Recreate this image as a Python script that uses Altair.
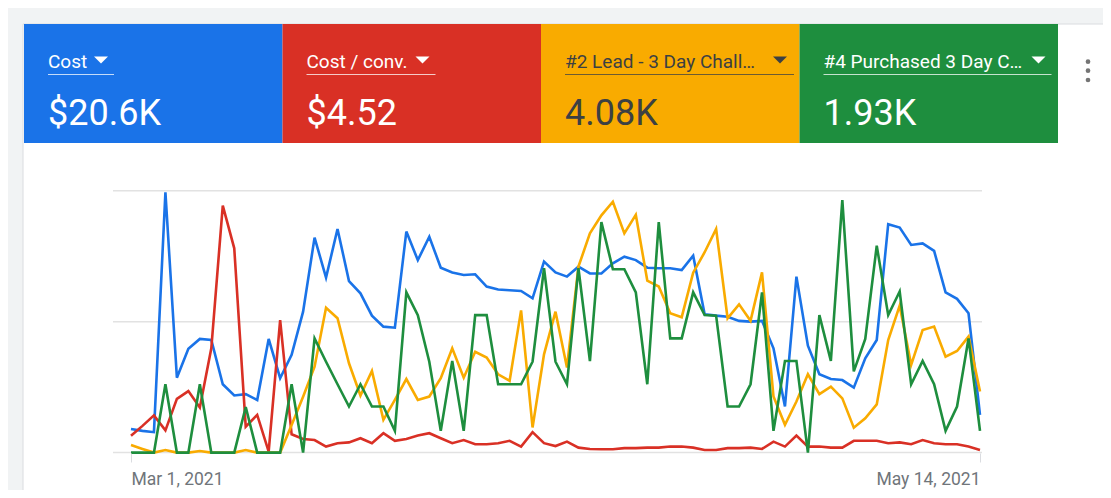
import altair as alt
import pandas as pd

# ---------------- data ----------------
dates = pd.date_range("2021-03-01", "2021-05-14", freq="D").strftime("%Y-%m-%d").tolist()

metric_names = ["Cost", "Cost / conv.", "#2 Lead - 3 Day Chall\u2026", "#4 Purchased 3 Day C\u2026"]
metric_values = ["$20.6K", "$4.52", "4.08K", "1.93K"]
metric_colors = ["#1a73e8", "#d93025", "#f9ab00", "#1e8e3e"]
text_colors = ["#ffffff", "#ffffff", "#3c4043", "#ffffff"]

# each series shown on its own relative scale (0-100 % of its axis)
cost = [9.0, 8.3, 7.8, 99.4, 28.6, 39.6, 43.4, 43.0, 26.1, 21.8, 22.3, 20.1, 43.4, 28.4, 37.3,
        53.8, 82.1, 66.8, 85.4, 65.5, 60.8, 52.3, 48.1, 47.7, 84.4, 73.5, 82.4, 70.6, 68.8, 67.8,
        68.1, 63.4, 62.3, 62.0, 61.7, 58.9, 72.9, 68.8, 67.2, 71.0, 68.4, 68.4, 72.3, 74.8, 73.5,
        70.6, 70.4, 70.4, 69.7, 75.2, 52.8, 52.3, 51.9, 50.3, 50.0, 50.3, 39.8, 17.6, 67.2, 40.8,
        29.9, 28.1, 27.7, 24.8, 36.0, 43.0, 87.2, 85.9, 79.3, 79.9, 77.0, 61.2, 58.7, 53.2, 14.4]
cost_per_conv = [6.4, 10.2, 14.2, 8.5, 20.5, 23.5, 17.2, 39.8, 94.3, 78.0, 9.9, 14.4, 0.4, 50.6, 7.0,
                 5.2, 4.8, 2.3, 3.6, 3.9, 5.5, 3.6, 7.4, 4.5, 5.2, 6.5, 7.4, 5.5, 3.6, 4.8,
                 3.2, 3.2, 3.6, 4.5, 2.3, 7.8, 3.6, 2.5, 4.2, 1.9, 1.4, 1.3, 1.3, 1.7, 1.7,
                 1.9, 1.9, 2.3, 2.3, 1.9, 1.0, 1.0, 1.7, 1.7, 1.9, 1.4, 4.2, 2.3, 6.5, 2.3,
                 2.3, 1.9, 1.9, 4.5, 4.5, 4.5, 3.6, 3.9, 3.2, 4.8, 3.6, 3.2, 3.2, 2.3, 1.0]
lead = [2.9, 1.4, 0.0, 1.0, 0.0, 0.0, 0.6, 0.0, 0.0, 0.0, 1.0, 0.0, 0.0, 0.0, 10.5,
        21.3, 32.8, 55.3, 51.3, 34.1, 21.8, 31.2, 12.5, 20.1, 28.1, 20.1, 21.4, 28.4, 39.8, 28.6,
        38.5, 36.3, 29.9, 27.4, 54.3, 9.6, 37.5, 53.8, 32.5, 71.0, 83.7, 90.6, 95.8, 83.7, 90.8,
        65.7, 63.4, 53.2, 51.7, 68.7, 76.5, 85.4, 51.3, 56.6, 50.3, 68.8, 21.4, 10.6, 19.5, 29.9,
        22.3, 25.2, 20.7, 9.5, 13.1, 18.4, 43.0, 56.1, 33.5, 46.8, 48.1, 36.6, 38.8, 44.3, 23.3]
purchased = [0.0, 0.0, 0.0, 26.1, 0.0, 0.0, 26.1, 0.0, 0.0, 0.0, 17.4, 0.0, 0.0, 0.0, 26.1,
             0.0, 43.6, 34.7, 26.1, 17.6, 26.1, 17.6, 17.6, 8.3, 61.2, 52.5, 34.7, 8.3, 35.0, 8.3,
             52.5, 52.5, 26.1, 26.1, 26.1, 34.7, 70.4, 34.7, 26.1, 70.4, 34.9, 88.0, 70.0, 70.0, 61.2,
             26.1, 88.0, 43.6, 43.6, 61.2, 52.5, 52.3, 17.6, 17.6, 26.1, 61.2, 8.3, 35.0, 35.0, 0.0,
             52.5, 35.0, 96.4, 31.0, 43.4, 79.0, 52.5, 61.5, 26.1, 35.0, 26.1, 8.3, 17.6, 43.6, 8.3]

series = [cost, cost_per_conv, lead, purchased]
x_tick_dates = ["2021-03-01", "2021-05-14"]
y_grid = [0, 50, 100]

# ---------------- helpers / layout ----------------
def ms(d):
    return int(pd.Timestamp(d, tz="UTC").value // 10**6)

W, H = 1095, 445
xscale = alt.Scale(type="utc", domain=[ms(dates[0]), ms(dates[-1])], range=[123, 972], nice=False)
yscale = alt.Scale(domain=[0, 100], range=[444.6, 182.7], nice=False, zero=False)
band = alt.Scale(domain=metric_names, range=[16, 1050], paddingInner=0, paddingOuter=0)
HALF_BAND = (1050 - 16) / len(metric_names) / 2

layers = []

# white card
layers.append(
    alt.Chart(pd.DataFrame({"a": [0]})).mark_rect(fill="white", stroke="#dadce0", strokeWidth=1).encode(
        x=alt.value(15), x2=alt.value(1120), y=alt.value(16), y2=alt.value(520)
    )
)

# header tiles
hdr = pd.DataFrame({"metric": metric_names, "value": metric_values})
layers.append(
    alt.Chart(hdr).mark_rect().encode(
        x=alt.X("metric:N", scale=band, axis=None),
        y=alt.value(16), y2=alt.value(135),
        color=alt.Color("metric:N", scale=alt.Scale(domain=metric_names, range=metric_colors), legend=None),
    )
)

ulen = [66, 129, 229, 228]
tri_off = [77, 140, 239, 239]
for i, name in enumerate(metric_names):
    d = pd.DataFrame({"metric": [name], "value": [metric_values[i]]})
    xc = alt.X("metric:N", scale=band, axis=None)  # band centre
    xs = alt.X("metric:N", scale=band, axis=None, bandPosition=0)
    tc = text_colors[i]
    layers.append(
        alt.Chart(d).mark_text(align="left", baseline="alphabetic", fontSize=19, font="Roboto",
                               color=tc, dx=24 - HALF_BAND).encode(x=xc, y=alt.value(59.7), text="metric:N")
    )
    layers.append(
        alt.Chart(d).mark_text(align="left", baseline="alphabetic", fontSize=36, font="Roboto",
                               color=tc, dx=24 - HALF_BAND).encode(x=xc, y=alt.value(117), text="value:N")
    )
    layers.append(
        alt.Chart(d).mark_rule(color=tc, opacity=0.75, strokeWidth=1, xOffset=24,
                               x2Offset=24 + ulen[i]).encode(
            x=xs, x2=alt.X2("metric:N", bandPosition=0), y=alt.value(66.5))
    )
    layers.append(
        alt.Chart(d).mark_point(shape="M-1,-0.5L1,-0.5L0,0.5Z", filled=True, size=196, color=tc,
                                opacity=1, xOffset=tri_off[i] - HALF_BAND).encode(x=xc, y=alt.value(52))
    )

# overflow menu dots
for yy in [53.7, 62.7, 72.0]:
    layers.append(
        alt.Chart(pd.DataFrame({"a": [0]})).mark_circle(color="#757575", size=22, opacity=1).encode(
            x=alt.value(1080), y=alt.value(yy))
    )

# gridlines
layers.append(
    alt.Chart(pd.DataFrame({"v": y_grid})).mark_rule(color="#e2e2e2", strokeWidth=1.5).encode(
        y=alt.Y("v:Q", scale=yscale, axis=None), x=alt.value(105), x2=alt.value(974)
    )
)

# series lines (blue, red, yellow, green — green drawn last / on top)
xaxis = alt.Axis(
    values=[ms(d) for d in x_tick_dates],
    labelExpr="utcFormat(datum.value, '%b %-d, %Y')",
    tickSize=9, tickColor="#dadce0", tickWidth=1, domain=False, grid=False,
    labelFlush=True, labelOverlap=False, labelPadding=8, labelFontSize=17.5,
    labelFont="Roboto", labelColor="#70757a", title=None, zindex=1,
)
for i, (name, vals) in enumerate(zip(metric_names, series)):
    df = pd.DataFrame({"date": dates, "value": vals})
    layers.append(
        alt.Chart(df).mark_line(color=metric_colors[i], strokeWidth=2.6).encode(
            x=alt.X("date:T", scale=xscale, axis=xaxis if i == 0 else None),
            y=alt.Y("value:Q", scale=yscale, axis=None),
        )
    )

chart = (
    alt.layer(*layers)
    .resolve_scale(x="independent", y="independent", color="independent")
    .properties(
        width=W, height=H,
        autosize=alt.AutoSizeParams(type="none"),
        padding={"left": 0, "top": 0, "right": 0, "bottom": 37},
        background="#f1f3f4",
    )
    .configure_view(stroke=None)
)

chart.save("out.html", embed_options={"renderer": "svg", "actions": False})
